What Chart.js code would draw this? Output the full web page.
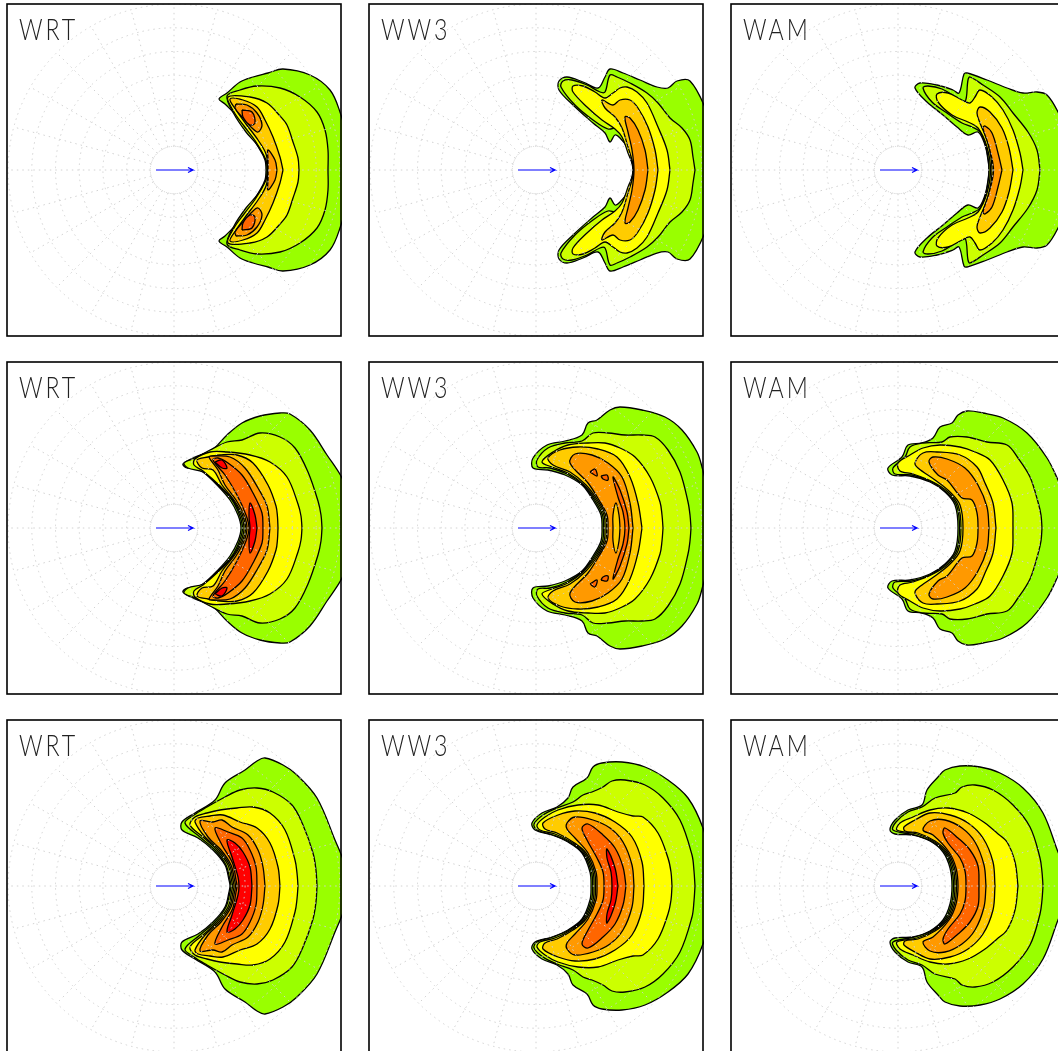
<!DOCTYPE html>
<html><head><meta charset="utf-8">
<script src="https://cdn.jsdelivr.net/npm/chart.js@4"></script>
<style>
html,body{margin:0;padding:0;background:#fff;width:1058px;height:1051px;overflow:hidden}
canvas{position:absolute;display:block}
</style></head><body>
<script>
// Level colours, low to high
const levelColors=['#99ff00','#ccff00','#ffff00','#ffcc00','#ff9900','#ff6600','#ff0000'];
const modelNames=['WRT','WW3','WAM'];
const ringRadii=[23.7,47.4,71.1,94.8,118.5,142.2,165.9];
const spokeAngles=[0,15,30,45,60,75,90,105,120,135,150,165,180,195,210,225,240,255,270,285,300,315,330,345];
const windArrow=[[-18,0],[19,0],[14,2.5],[19,0],[14,-2.5]];

// Upper half of each contour (mirrored about the wind axis)
const a1L1=[[175,0],[173,30],[166,58],[156,80],[136,95],[109,101],[94,97],[79,93],[66,88],[53,77],[45,71],[51,66],[69,47],[86,20],[91,10],[92,0]];
const a1L2=[[154,0],[154,20],[151,40],[143,58],[126,73],[106,82],[83,84],[66,80],[53,74],[60,56],[72,38],[84,24],[92,10],[93,0]];
const a1L3=[[125,0],[124,12],[119,28],[113,45],[106,54],[93,67],[76,73],[54,73],[60,58],[70,44],[82,28],[92,10],[94,0]];
const a1L4=[[109,0],[106,13],[99,33],[91,50],[83,63],[69,70],[56,71],[62,60],[72,46],[84,30],[92,16],[94,0]];
const a1L5a=[[62,66],[73,65],[83,57],[88,45],[84,38],[78,42],[68,53],[61,62],[62,66]];
const a1L6a=[[68,60],[78,58],[81,47],[76,45],[69,53],[68,60]];
const a1L5b=[[103,0],[101,10],[94,20],[94,10],[94,0]];

const a2L1=[[180,0],[178,30],[170,60],[154,89],[141,89],[132,82],[121,83],[104,90],[87,97],[74,101],[69,93],[62,82],[47,88],[31,93],[23,89],[23,80],[37,65],[57,47],[69,37],[74,28],[79,35],[84,32],[91,23],[96,10],[97,0]];
const a2L2=[[159,0],[157,13],[154,30],[146,42],[134,52],[122,67],[111,77],[94,87],[81,93],[74,95],[69,78],[64,78],[51,85],[36,90],[27,89],[25,83],[39,65],[57,50],[72,41],[82,42],[89,28],[95,10],[97,0]];
const a2L3=[[134,0],[131,20],[122,43],[111,67],[101,78],[91,83],[84,82],[77,77],[69,72],[59,78],[47,84],[37,84],[37,78],[51,63],[66,50],[79,41],[86,33],[92,17],[98,0]];
const a2L4=[[122,0],[119,20],[112,43],[102,62],[94,70],[84,70],[77,65],[66,70],[69,62],[79,53],[86,42],[92,23],[96,10],[98,0]];
const a2L5=[[112,0],[109,20],[102,40],[94,52],[89,53],[92,38],[96,20],[98,0]];

const a3L1=[[175,0],[172,30],[160,58],[149,75],[139,78],[125,77],[109,82],[89,90],[69,97],[66,96],[61,77],[55,80],[39,85],[22,87],[17,82],[29,68],[45,55],[59,43],[70,35],[80,38],[87,25],[90,10],[91,0]];
const a3L2=[[142,0],[139,20],[130,38],[115,57],[102,73],[85,85],[72,93],[70,90],[67,68],[59,72],[44,81],[30,84],[25,82],[34,68],[49,57],[64,47],[74,43],[82,38],[88,23],[91,0]];
const a3L3=[[125,0],[122,17],[115,40],[105,60],[94,73],[82,80],[77,73],[72,67],[64,70],[50,77],[39,76],[40,68],[54,55],[70,48],[80,42],[89,23],[92.5,0]];
const a3L4=[[115,0],[111,22],[104,42],[92,58],[82,63],[79,57],[82,47],[90,27],[94,0]];
const a3L5=[[104,0],[100,17],[94,37],[87,44],[85,42],[91,23],[95.5,0]];

const b1L1=[[178,0],[175,30],[168,50],[153,73],[136,98],[116,114],[106,115],[86,112],[68,105],[53,93],[38,78],[21,71],[9,64],[13,60],[21,60],[29,56],[43,43],[56,28],[64,13],[67,0]];
const b1L2=[[148,0],[147,13],[144,27],[134,56],[121,80],[106,91],[86,95],[68,88],[53,86],[36,78],[21,70],[10,65],[14,60],[29,56],[44,43],[58,28],[65.5,13],[68.5,0]];
const b1L3=[[128,0],[127,12],[124,24],[113,51],[96,66],[76,73],[53,76],[36,76],[21,69],[20,63],[29,57],[45,43],[59,28],[67,13],[70,0]];
const b1L4=[[104,0],[103.5,11],[102,22],[94,43],[79,65],[63,73],[46,73],[34,71],[23,68],[28,60],[39,58],[48,43],[60,28],[68.5,13],[71.5,0]];
const b1L5=[[96,0],[93,22],[84,40],[71,60],[56,71],[39,72],[35,71],[44,58],[51,43],[62,28],[70,13],[73,0]];
const b1L6=[[89,0],[88,15],[79,35],[68,53],[54,65],[44,70],[39,68],[51,53],[63,33],[72,13],[75,0]];
const b1L7a=[[41,66],[48,68],[53,60],[48,60],[41,66]];
const b1L7b=[[83,0],[81,13],[76,25],[75,12],[76,0]];

const b2L1=[[174,0],[172,35],[166,61],[161,76],[146,98],[129,111],[106,118],[84,121],[74,118],[61,108],[52,105],[46,93],[29,87],[11,83],[-3,70],[-3,60],[12,58],[29,53],[46,43],[57,28],[65,13],[66,0]];
const b2L2=[[155,0],[154,13],[152,26],[144,56],[132,78],[119,91],[106,93],[89,93],[72,95],[57,95],[46,87],[29,85],[12,80],[1,68],[2,61],[14,60],[31,54],[47,43],[58.5,28],[66.5,13],[67.5,0]];
const b2L3=[[127,0],[126,13],[124,26],[114,51],[99,71],[84,80],[69,85],[52,85],[32,83],[17,76],[6,66],[16,61],[32,55],[48,43],[60,28],[68,13],[69,0]];
const b2L4=[[106,0],[102,25],[94,51],[81,71],[62,79],[42,81],[24,78],[12,70],[17,63],[34,56],[50,43],[61.5,28],[69.5,13],[70.5,0]];
const b2L5=[[97,0],[94,25],[86,51],[72,65],[56,73],[39,74],[34,65],[52,45],[63,28],[71,13],[72,0]];
const b2Lens=[[84,0],[83,13],[80,25],[77,13],[77,0]];
const b2L6=[[93,0],[91,16],[84,38],[77,51],[82,31],[87,16],[89,0]];
const b2Tri1=[[54,56],[59,59],[61,52],[54,56]];
const b2Tri2=[[65,52],[71,53],[72,48],[67,49],[65,52]];

const b3L1=[[172,0],[170,25],[160,48],[149,70],[129,95],[105,110],[85,115],[69,117],[60,113],[54,105],[42,101],[35,90],[24,85],[10,83],[4,71],[-10,60],[-6,53],[12,52],[32,46],[47,36],[57,23],[60,0]];
const b3L2=[[144,0],[143,13],[140,26],[132,51],[120,70],[109,83],[89,86],[69,91],[52,91],[44,86],[25,85],[12,81],[7,71],[-5,60],[-3,54],[14,53],[34,46],[48,36],[58.5,23],[61.5,0]];
const b3L3=[[115,0],[114,25],[105,48],[92,68],[77,76],[62,81],[42,83],[25,80],[12,73],[0,65],[2,57],[15,54],[35,46],[50,36],[60,23],[63,0]];
const b3L4=[[98,0],[95,25],[87,45],[79,61],[62,73],[39,76],[25,75],[17,65],[20,60],[37,48],[52,36],[62,23],[65,0]];
const b3L5=[[91,0],[89,21],[80,43],[67,60],[49,69],[35,71],[31,66],[40,53],[49,48],[64,30],[74,28],[79,15],[80,0]];

const c1L1=[[172,0],[171,20],[161,46],[143,88],[123,111],[109,121],[91,128],[83,125],[71,116],[51,103],[41,86],[21,73],[8,64],[8,56],[24,48],[39,36],[51,21],[55,6],[56,0]];
const c1L2=[[143,0],[142,16],[139,33],[129,61],[118,81],[99,94],[83,98],[66,96],[51,89],[33,79],[20,71],[11,63],[26,49],[41,36],[52,21],[56,6],[57,0]];
const c1L3=[[124,0],[123,13],[121,26],[111,56],[96,73],[79,79],[63,78],[46,76],[33,73],[21,69],[16,61],[29,49],[43,36],[54,21],[57.5,6],[58.5,0]];
const c1L4=[[106,0],[104,19],[96,43],[83,58],[66,64],[49,71],[36,70],[24,68],[21,64],[31,49],[45,36],[55.5,21],[59,6],[60,0]];
const c1L5=[[91,0],[89,19],[84,36],[74,51],[58,59],[48,66],[39,64],[26,65],[34,49],[47,36],[57,21],[60.5,6],[61.5,0]];
const c1L6=[[83,0],[82,19],[76,36],[68,48],[54,54],[41,58],[48,41],[58.5,23],[62,6],[63,0]];
const c1L7=[[78,0],[76,19],[69,34],[61,43],[53,46],[58,29],[64,9],[65,0]];

const c2L1=[[176,0],[175,25],[167,58],[152,88],[132,106],[109,119],[86,124],[66,123],[57,119],[51,108],[37,99],[32,88],[21,79],[6,73],[-4,63],[-1,56],[16,51],[32,44],[46,33],[54,14],[55,0]];
const c2L2=[[159,0],[158,15],[156,31],[144,66],[127,88],[109,101],[89,106],[76,105],[67,99],[56,94],[47,91],[37,84],[21,78],[7,71],[-2,62],[1,56],[17,51],[33,44],[47,33],[55.5,14],[56.5,0]];
const c2L3=[[136,0],[135,14],[132,28],[122,53],[107,69],[97,70],[82,74],[62,81],[42,81],[22,76],[9,69],[1,61],[4,56],[19,52],[35,44],[48.5,33],[57,14],[58,0]];
const c2L4=[[108,0],[106,24],[96,49],[79,64],[59,73],[39,75],[22,71],[7,63],[9,57],[21,53],[37,44],[50,33],[58.5,14],[59.5,0]];
const c2L5=[[98,0],[96,21],[87,44],[74,58],[57,66],[39,69],[31,63],[31,57],[39,48],[52,33],[60,14],[61,0]];
const c2L6=[[90,0],[87,19],[79,38],[67,51],[52,62],[46,58],[51,46],[61,28],[67,14],[68,0]];
const c2L7=[[82,0],[79,18],[71,37],[71,28],[75,14],[76,0]];

const c3L1=[[170,0],[168,15],[160,34],[145,73],[125,98],[102,113],[82,119],[62,120],[47,116],[40,109],[29,96],[24,81],[10,76],[-3,66],[-8,56],[-3,52],[15,51],[32,45],[45,34],[52,18],[54,0]];
const c3L2=[[145,0],[144,14],[142,28],[132,59],[115,81],[95,96],[77,101],[64,99],[57,93],[37,88],[24,79],[10,74],[-2,64],[-5,56],[17,51],[33,45],[46.5,34],[53.5,18],[55.5,0]];
const c3L3=[[120,0],[117,24],[109,44],[99,53],[87,63],[70,73],[50,78],[32,76],[15,69],[2,63],[-1,56],[19,52],[35,45],[48,34],[55,18],[57,0]];
const c3L4=[[97,0],[95,24],[85,48],[70,63],[52,71],[32,73],[17,66],[6,59],[7,55],[20,53],[37,45],[49.5,34],[56.5,18],[58.5,0]];
const c3L5=[[88,0],[86,21],[77,44],[64,58],[47,66],[32,65],[25,56],[35,51],[51,34],[58,18],[60,0]];
const c3L6=[[81,0],[80,20],[72,36],[60,48],[47,58],[45,53],[50,43],[62,28],[67,15],[68,0]];

// Per panel: [level index, contour] painted bottom to top
const panels=[
 [[0,a1L1],[1,a1L2],[2,a1L3],[3,a1L4],[4,a1L5a],[5,a1L6a],[4,a1L5b]],
 [[0,a2L1],[1,a2L2],[2,a2L3],[3,a2L4],[4,a2L5]],
 [[0,a3L1],[1,a3L2],[2,a3L3],[3,a3L4],[4,a3L5]],
 [[0,b1L1],[1,b1L2],[2,b1L3],[3,b1L4],[4,b1L5],[5,b1L6],[6,b1L7a],[6,b1L7b]],
 [[0,b2L1],[1,b2L2],[2,b2L3],[3,b2L4],[4,b2L5],[3,b2Lens],[5,b2L6],[5,b2Tri1],[5,b2Tri2]],
 [[0,b3L1],[1,b3L2],[2,b3L3],[3,b3L4],[4,b3L5]],
 [[0,c1L1],[1,c1L2],[2,c1L3],[3,c1L4],[4,c1L5],[5,c1L6],[6,c1L7]],
 [[0,c2L1],[1,c2L2],[2,c2L3],[3,c2L4],[4,c2L5],[5,c2L6],[6,c2L7]],
 [[0,c3L1],[1,c3L2],[2,c3L3],[3,c3L4],[4,c3L5],[5,c3L6]]
];

function toPoints(c){return c.map(p=>({x:p[0],y:p[1]}));}
// A contour touching the axis at both ends is joined to its mirror image;
// a closed lobe gets a separate mirrored copy.
function expand(c){
  const first=c[0],last=c[c.length-1];
  const mirror=c.map(p=>[p[0],-p[1]]);
  if(first[1]===0&&last[1]===0){
    return [c.concat(mirror.slice(0,-1).reverse())];
  }
  return [c,mirror];
}
const gridPlugin={id:'polarGrid',afterDatasetsDraw(chart){
  const {ctx,scales:{x,y}}=chart;
  const cx=x.getPixelForValue(0),cy=y.getPixelForValue(0),u=x.getPixelForValue(1)-cx;
  ctx.save();
  ctx.beginPath();ctx.rect(chart.chartArea.left,chart.chartArea.top,chart.chartArea.width,chart.chartArea.height);ctx.clip();
  ctx.strokeStyle='#d2d2d2';ctx.lineWidth=1;
  ringRadii.forEach((r,i)=>{
    ctx.setLineDash(i===0?[1.2,1]:[1.5,4]);
    ctx.beginPath();ctx.arc(cx,cy,r*u,0,Math.PI*2);ctx.stroke();
  });
  ctx.setLineDash([1.5,4]);
  spokeAngles.forEach(a=>{
    const t=a*Math.PI/180,c=Math.cos(t),s=Math.sin(t),r0=ringRadii[0]*u,r1=ringRadii[6]*u;
    ctx.beginPath();ctx.moveTo(cx+r0*c,cy-r0*s);ctx.lineTo(cx+r1*c,cy-r1*s);ctx.stroke();
  });
  ctx.restore();
},afterDraw(chart){
  const {ctx}=chart,o=chart.options.plugins.polarGrid;
  ctx.save();
  ctx.strokeStyle='#000';ctx.lineWidth=1.6;ctx.setLineDash([]);
  ctx.strokeRect(1,1,chart.width-2,chart.height-2);
  ctx.fillStyle='#222';ctx.font='300 29px Lato';ctx.textBaseline='alphabetic';
  ctx.letterSpacing='3.6px';
  ctx.translate(13,36.5);ctx.scale(0.8,1);
  ctx.fillText(o.label,0,0);
  ctx.restore();
}};
Chart.register(gridPlugin);
panels.forEach((contours,i)=>{
  const col=i%3,row=Math.floor(i/3);
  const cv=document.createElement('canvas');
  cv.width=336;cv.height=334;
  cv.style.left=(6+362*col)+'px';cv.style.top=(3+358*row)+'px';
  cv.style.width='336px';cv.style.height='334px';
  document.body.appendChild(cv);
  const datasets=[];
  contours.forEach(([lv,c])=>{
    expand(c).forEach(pts=>{
      datasets.push({data:toPoints(pts),showLine:true,pointRadius:0,pointHitRadius:0,borderColor:'#000',borderWidth:1.3,
        backgroundColor:levelColors[lv],fill:'shape',tension:0.35,borderJoinStyle:'round',order:-datasets.length});
    });
  });
  datasets.push({data:toPoints(windArrow),showLine:true,pointRadius:0,borderColor:'#0000ff',borderWidth:1.2,fill:false,tension:0,order:-datasets.length});
  new Chart(cv,{type:'scatter',data:{datasets},options:{
    responsive:false,animation:false,devicePixelRatio:1,events:[],
    layout:{padding:0},
    scales:{x:{type:'linear',min:-168,max:168,display:false},y:{type:'linear',min:-167,max:167,display:false}},
    plugins:{legend:{display:false},tooltip:{enabled:false},title:{display:false},polarGrid:{label:modelNames[col]}}
  }});
});
</script>
</body></html>
